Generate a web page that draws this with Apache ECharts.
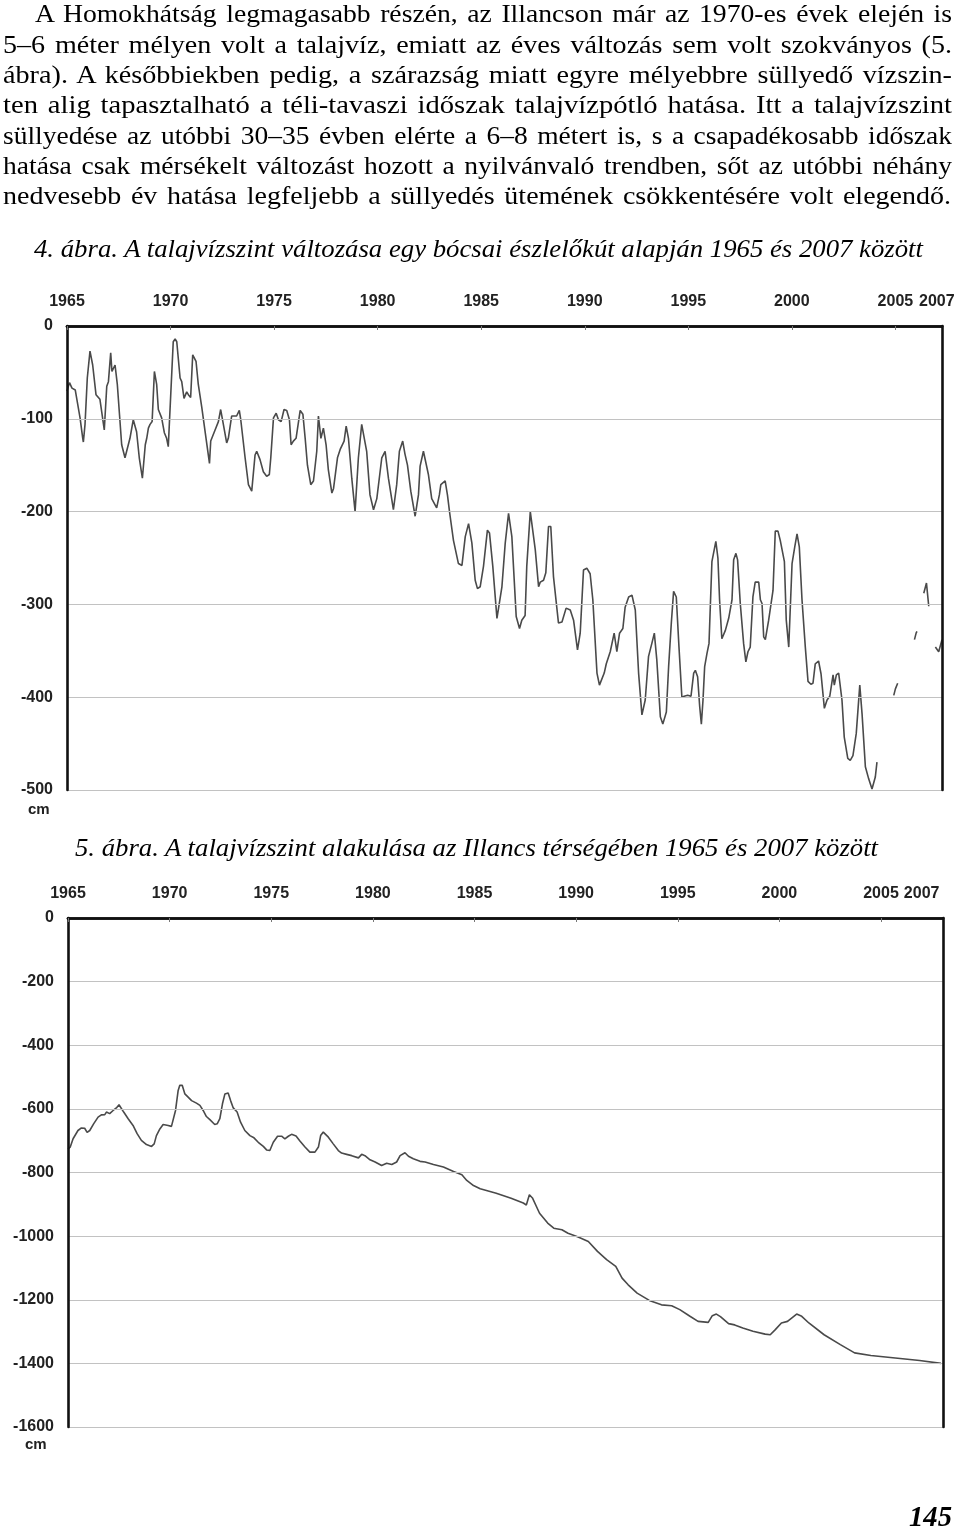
<!DOCTYPE html>
<html><head><meta charset="utf-8">
<script src="https://cdn.jsdelivr.net/npm/echarts@6/dist/echarts.min.js"></script>
<style>
html,body{margin:0;padding:0;background:#fff;}
#page{position:relative;width:960px;height:1527px;overflow:hidden;background:#fff;}
#chart{position:absolute;left:0;top:0;width:960px;height:1527px;}
.ln{position:absolute;white-space:nowrap;display:inline-block;font-family:"Liberation Serif","Times New Roman",serif;font-size:26px;line-height:30px;color:#000;z-index:5;}
.it{font-style:italic;}
.pg{font-weight:bold;font-style:italic;font-size:29px;}
</style></head>
<body><div id="page">
<div id="chart"></div>
<div class="ln" data-x0="35" data-x1="952" data-b="23" data-j="1">A Homokhátság legmagasabb részén, az Illancson már az 1970-es évek elején is</div>
<div class="ln" data-x0="3" data-x1="952" data-b="53.3" data-j="1">5–6 méter mélyen volt a talajvíz, emiatt az éves változás sem volt szokványos (5.</div>
<div class="ln" data-x0="3" data-x1="952" data-b="83.6" data-j="1">ábra). A későbbiekben pedig, a szárazság miatt egyre mélyebbre süllyedő vízszin-</div>
<div class="ln" data-x0="3" data-x1="952" data-b="114" data-j="1">ten alig tapasztalható a téli-tavaszi időszak talajvízpótló hatása. Itt a talajvízszint</div>
<div class="ln" data-x0="3" data-x1="952" data-b="144.5" data-j="1">süllyedése az utóbbi 30–35 évben elérte a 6–8 métert is, s a csapadékosabb időszak</div>
<div class="ln" data-x0="3" data-x1="952" data-b="175" data-j="1">hatása csak mérsékelt változást hozott a nyilvánvaló trendben, sőt az utóbbi néhány</div>
<div class="ln" data-x0="3" data-x1="951" data-b="205" data-j="1">nedvesebb év hatása legfeljebb a süllyedés ütemének csökkentésére volt elegendő.</div>
<div class="ln it" data-x0="34" data-x1="923" data-b="258" data-j="0">4. ábra. A talajvízszint változása egy bócsai észlelőkút alapján 1965 és 2007 között</div>
<div class="ln it" data-x0="75" data-x1="878" data-b="857" data-j="0">5. ábra. A talajvízszint alakulása az Illancs térségében 1965 és 2007 között</div>
<div class="ln pg" data-x0="909" data-x1="952" data-b="1525" data-j="0">145</div>
</div>
<script>
// ---------- DATA ----------
const tickYears1 = [1965, 1970, 1975, 1980, 1985, 1990, 1995, 2000, 2005, 2007];
const tickYears2 = [1965, 1970, 1975, 1980, 1985, 1990, 1995, 2000, 2005, 2007];
const tickMarks = [1965, 1970, 1975, 1980, 1985, 1990, 1995, 2000, 2005];

// Fig. 4 – Bócsa observation well (cm), null = missing record
const years1 = [1965.00,1965.12,1965.24,1965.40,1965.63,1965.76,1965.79,1965.87,1965.98,1966.11,1966.24,1966.40,1966.59,1966.80,1966.92,1967.00,1967.11,1967.17,1967.32,1967.43,1967.64,1967.80,1967.88,1968.04,1968.20,1968.36,1968.49,1968.64,1968.69,1968.78,1968.85,1968.93,1969.01,1969.11,1969.22,1969.33,1969.41,1969.57,1969.70,1969.81,1969.89,1969.97,1970.13,1970.22,1970.30,1970.46,1970.54,1970.65,1970.78,1970.86,1970.97,1971.07,1971.14,1971.23,1971.34,1971.51,1971.55,1971.67,1971.88,1971.94,1972.15,1972.31,1972.42,1972.55,1972.71,1972.79,1972.95,1973.03,1973.19,1973.32,1973.39,1973.60,1973.76,1973.92,1974.08,1974.16,1974.32,1974.48,1974.64,1974.77,1974.84,1974.97,1975.10,1975.21,1975.34,1975.48,1975.61,1975.74,1975.82,1975.93,1976.06,1976.26,1976.39,1976.50,1976.61,1976.77,1976.90,1977.06,1977.14,1977.26,1977.38,1977.51,1977.62,1977.79,1977.87,1978.06,1978.19,1978.38,1978.48,1978.59,1978.75,1978.91,1978.96,1979.07,1979.23,1979.31,1979.47,1979.63,1979.80,1979.88,1979.96,1980.20,1980.36,1980.52,1980.76,1980.92,1981.05,1981.21,1981.32,1981.44,1981.60,1981.81,1981.97,1982.05,1982.21,1982.29,1982.45,1982.61,1982.85,1982.98,1983.05,1983.26,1983.37,1983.47,1983.50,1983.66,1983.90,1984.07,1984.23,1984.39,1984.55,1984.71,1984.82,1984.95,1985.11,1985.30,1985.40,1985.56,1985.76,1985.84,1986.00,1986.16,1986.32,1986.48,1986.69,1986.85,1986.96,1987.12,1987.20,1987.37,1987.45,1987.61,1987.77,1987.85,1988.01,1988.12,1988.25,1988.36,1988.49,1988.73,1988.90,1989.10,1989.30,1989.46,1989.65,1989.78,1989.94,1990.10,1990.26,1990.39,1990.59,1990.71,1990.94,1991.04,1991.23,1991.42,1991.55,1991.68,1991.84,1991.95,1992.12,1992.28,1992.44,1992.60,1992.76,1992.92,1993.08,1993.24,1993.36,1993.48,1993.65,1993.77,1993.94,1994.05,1994.18,1994.29,1994.42,1994.55,1994.69,1994.80,1994.97,1995.13,1995.26,1995.34,1995.45,1995.55,1995.63,1995.71,1995.79,1995.90,1996.00,1996.14,1996.22,1996.33,1996.43,1996.51,1996.62,1996.79,1996.95,1997.11,1997.19,1997.30,1997.38,1997.51,1997.67,1997.78,1997.88,1997.99,1998.12,1998.23,1998.40,1998.48,1998.56,1998.64,1998.72,1998.88,1999.09,1999.20,1999.33,1999.44,1999.64,1999.73,1999.85,2000.01,2000.14,2000.25,2000.36,2000.49,2000.65,2000.78,2000.92,2001.02,2001.13,2001.29,2001.41,2001.57,2001.70,2001.83,2001.99,2002.05,2002.15,2002.26,2002.42,2002.53,2002.70,2002.82,2002.95,2003.11,2003.28,2003.39,2003.55,2003.71,2003.87,2003.95,2004.03,2004.11,2004.50,2004.92,2005.00,2005.11,2005.50,2005.92,2006.00,2006.04,2006.20,2006.37,2006.50,2006.61,2006.80,2006.93,2007.09,2007.25];
const depth1 = [-70,-61,-67,-69,-99,-121,-125,-106,-56,-27,-42,-74,-79,-112,-65,-60,-29,-49,-42,-63,-128,-142,-144,-121,-101,-114,-142,-164,-162,-128,-121,-110,-106,-103,-49,-63,-90,-99,-115,-121,-130,-130,-17,-14,-17,-56,-60,-78,-71,-74,-77,-31,-29,-38,-63,-88,-90,-114,-148,-124,-112,-103,-90,-106,-126,-121,-97,-99,-97,-91,-101,-142,-171,-178,-139,-135,-144,-157,-162,-160,-142,-99,-94,-101,-103,-90,-91,-101,-128,-124,-121,-91,-95,-121,-150,-171,-167,-135,-97,-121,-110,-128,-155,-180,-175,-142,-133,-124,-108,-121,-164,-200,-202,-142,-106,-105,-135,-182,-198,-198,-186,-142,-135,-164,-198,-171,-135,-124,-138,-150,-178,-205,-182,-151,-135,-133,-160,-186,-196,-182,-171,-167,-182,-200,-205,-231,-256,-258,-227,-213,-234,-274,-283,-281,-259,-220,-223,-259,-315,-315,-281,-234,-202,-227,-313,-326,-317,-312,-259,-200,-198,-241,-281,-276,-274,-266,-216,-216,-270,-320,-319,-304,-306,-317,-349,-331,-263,-261,-267,-295,-374,-387,-374,-364,-351,-331,-351,-331,-326,-303,-292,-290,-306,-374,-419,-403,-356,-342,-331,-360,-421,-429,-416,-367,-320,-286,-292,-346,-400,-399,-398,-399,-374,-371,-378,-410,-429,-403,-367,-353,-342,-254,-252,-232,-250,-295,-337,-328,-315,-295,-252,-245,-252,-299,-342,-362,-351,-346,-292,-276,-276,-295,-299,-335,-338,-317,-285,-221,-221,-231,-254,-317,-346,-256,-238,-224,-238,-295,-346,-383,-386,-385,-364,-361,-375,-412,-403,-399,-376,-387,-376,-374,-403,-443,-466,-468,-463,-439,-387,-418,-475,-488,-499,-498,-486,-470,null,-398,-391,-385,null,-338,-331,-329,null,-288,-277,-302,null,-346,-351,-338];

// Fig. 5 – Illancs area (cm)
const years2 = [1965.00,1965.11,1965.25,1965.49,1965.66,1965.82,1965.94,1966.07,1966.26,1966.48,1966.64,1966.81,1966.89,1967.05,1967.22,1967.38,1967.51,1967.58,1967.74,1967.96,1968.20,1968.40,1968.61,1968.86,1969.11,1969.24,1969.35,1969.52,1969.68,1969.93,1970.09,1970.17,1970.29,1970.42,1970.50,1970.62,1970.75,1970.91,1971.08,1971.32,1971.49,1971.65,1971.81,1971.98,1972.22,1972.34,1972.47,1972.60,1972.72,1972.88,1973.00,1973.13,1973.32,1973.49,1973.70,1973.95,1974.15,1974.36,1974.61,1974.77,1974.93,1975.10,1975.31,1975.51,1975.67,1975.84,1976.00,1976.22,1976.41,1976.66,1976.90,1977.15,1977.32,1977.43,1977.56,1977.64,1977.81,1978.05,1978.30,1978.46,1978.71,1978.96,1979.29,1979.45,1979.61,1979.86,1980.11,1980.43,1980.68,1980.93,1981.17,1981.34,1981.58,1981.75,1981.99,1982.32,1982.57,1982.98,1983.47,1983.97,1984.38,1984.62,1984.95,1985.28,1986.07,1986.80,1987.40,1987.55,1987.70,1987.85,1988.20,1988.60,1988.90,1989.30,1989.60,1990.10,1990.60,1991.05,1991.50,1991.95,1992.26,1992.56,1993.00,1993.60,1994.20,1994.70,1995.10,1995.60,1996.00,1996.50,1996.70,1996.90,1997.10,1997.50,1997.80,1998.20,1998.70,1999.30,1999.55,1999.80,2000.10,2000.40,2000.85,2001.10,2001.45,2002.20,2003.00,2003.70,2004.50,2005.70,2006.90,2007.95];
const depth2 = [-726,-720,-694,-668,-660,-661,-674,-668,-647,-626,-619,-618,-610,-615,-605,-597,-587,-592,-610,-631,-652,-678,-699,-712,-718,-710,-684,-663,-649,-652,-655,-652,-605,-542,-526,-526,-553,-563,-574,-582,-589,-605,-624,-634,-649,-647,-631,-584,-553,-550,-574,-597,-610,-642,-668,-684,-691,-705,-718,-729,-731,-705,-686,-686,-694,-686,-680,-685,-701,-720,-736,-736,-720,-684,-673,-676,-689,-710,-731,-739,-743,-747,-754,-743,-747,-760,-767,-778,-771,-775,-767,-747,-738,-749,-757,-765,-767,-775,-783,-797,-807,-825,-841,-851,-865,-881,-896,-902,-870,-880,-928,-959,-975,-980,-991,-1003,-1017,-1048,-1074,-1095,-1132,-1153,-1179,-1202,-1216,-1219,-1231,-1252,-1268,-1271,-1250,-1245,-1253,-1275,-1279,-1289,-1299,-1308,-1310,-1294,-1273,-1268,-1245,-1252,-1273,-1310,-1341,-1367,-1375,-1383,-1391,-1400];

// ---------- TEXT FITTING ----------
function fitLines(){
  document.querySelectorAll('.ln').forEach(el=>{
    el.style.wordSpacing='0px'; el.style.transform='none';
    const x0=+el.dataset.x0, x1=+el.dataset.x1, b=+el.dataset.b;
    const target=x1-x0;
    el.style.left=x0+'px';
    el.style.top=(b-23.8)+'px';
    let w=el.getBoundingClientRect().width;
    const spaces=(el.textContent.match(/ /g)||[]).length;
    if(el.dataset.j==='1' && w<target && spaces){
      const extra=Math.min(2.5,(target-w)/spaces);
      el.style.wordSpacing=extra+'px';
      w=el.getBoundingClientRect().width;
    }
    el.style.transformOrigin='0 0';
    el.style.transform='scaleX('+(target/w)+')';
  });
}
fitLines();
if(document.fonts && document.fonts.ready){document.fonts.ready.then(fitLines);}

// ---------- CHART ----------
const zip=(xs,ys)=>xs.map((x,i)=>[x, ys[i]===null?'-':ys[i]]);
const labelFont={fontFamily:'"Liberation Sans", Arial, sans-serif',fontWeight:'bold',fontSize:16,color:'#222'};
const boxLine={show:true,lineStyle:{color:'#111',width:2.6}};
const plain=v=>String(Math.round(v));

function xTop(gi,max,labels){
  return {gridIndex:gi,type:'value',position:'top',min:1965,max:max,z:5,
    axisLine:boxLine,
    axisTick:{show:true,inside:true,length:4,customValues:tickMarks,lineStyle:{color:'#777',width:1}},
    axisLabel:Object.assign({margin:16,customValues:labels,formatter:plain},labelFont),
    splitLine:{show:false}};
}
function xBottom(gi,max){
  return {gridIndex:gi,type:'value',position:'bottom',min:1965,max:max,z:5,
    axisLine:boxLine,axisTick:{show:false},axisLabel:{show:false},splitLine:{show:false}};
}
function yLeft(gi,min,interval){
  return {gridIndex:gi,type:'value',min:min,max:0,interval:interval,position:'left',z:4,
    axisLine:boxLine,axisTick:{show:false},
    axisLabel:Object.assign({margin:14,formatter:plain},labelFont),
    splitLine:{show:true,lineStyle:{color:'#c2c2c2',width:1.2}}};
}
function yRight(gi,min){
  return {gridIndex:gi,type:'value',min:min,max:0,position:'right',z:5,
    axisLine:boxLine,axisTick:{show:false},axisLabel:{show:false},splitLine:{show:false}};
}

const chart=echarts.init(document.getElementById('chart'),null,{renderer:'canvas'});
chart.setOption({
  backgroundColor:'transparent',
  animation:false,
  grid:[
    {left:67,top:326,width:875,height:464,containLabel:false,outerBoundsMode:'none'},
    {left:68,top:918,width:875,height:509,containLabel:false,outerBoundsMode:'none'}
  ],
  xAxis:[xTop(0,2007.25,tickYears1),xBottom(0,2007.25),xTop(1,2008.05,tickYears2),xBottom(1,2008.05)],
  yAxis:[yLeft(0,-500,100),yRight(0,-500),yLeft(1,-1600,200),yRight(1,-1600)],
  graphic:[
    {type:'text',left:28,top:802,style:{text:'cm',font:'bold 15px "Liberation Sans", Arial, sans-serif',fill:'#222'}},
    {type:'text',left:25,top:1437,style:{text:'cm',font:'bold 15px "Liberation Sans", Arial, sans-serif',fill:'#222'}}
  ],
  series:[
    {type:'line',xAxisIndex:0,yAxisIndex:0,data:zip(years1,depth1),showSymbol:false,connectNulls:false,
     lineStyle:{color:'#4a4a4a',width:1.6},z:3},
    {type:'line',xAxisIndex:2,yAxisIndex:2,data:zip(years2,depth2),showSymbol:false,
     lineStyle:{color:'#4a4a4a',width:1.6},z:3}
  ]
});
</script>
</body></html>
